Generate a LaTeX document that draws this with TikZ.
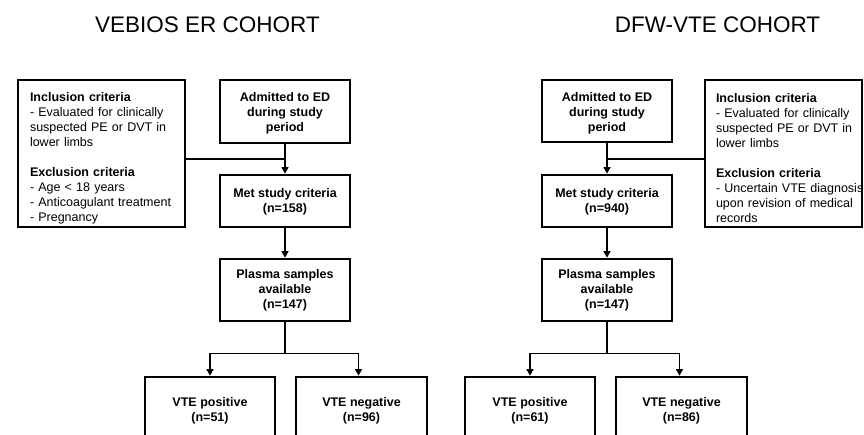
\documentclass[tikz,border=0pt]{standalone}
\usepackage{fontspec}
\setmainfont{Liberation Sans}
\usetikzlibrary{arrows.meta}
\newcommand{\topgap}{\rule{0pt}{19pt}}
\begin{document}
\begin{tikzpicture}[x=1pt,y=-1pt,
  box/.style={draw, line width=2.7pt, font=\bfseries\fontsize{12.5}{15}\selectfont, align=center, inner sep=0pt, minimum width=130pt},
  crit/.style={draw, line width=2.7pt, font=\fontsize{12.5}{15}\selectfont, align=left, inner ysep=0pt, minimum height=147pt},
  conn/.style={line width=1.3pt},
  arr/.style={conn, -{Triangle[length=6.5pt,width=7pt]}},
  ttl/.style={font=\fontsize{22.5}{25}\selectfont}]
\useasboundingbox (0,0) rectangle (864,434);

% titles
\node[ttl] (t1) at (207.5,25) {VEBIOS ER COHORT};
\node[ttl] (t2) at (717.5,25) {DFW-VTE COHORT};

% left cohort
\node[box, minimum height=63pt] (adm1) at (285,111.5) {\rule{0pt}{13pt}Admitted to ED\\during study\\period};
\node[box, minimum height=52pt] (met1) at (285,201) {\rule{0pt}{11pt}Met study criteria\\(n=158)};
\node[box, minimum height=62pt] (pl1) at (285,290) {Plasma samples\\available\\(n=147)};
\node[box, minimum height=68pt] (pos1) at (210,411) {VTE positive\\(n=51)};
\node[box, minimum width=131pt, minimum height=68pt] (neg1) at (361.5,411) {VTE negative\\(n=96)};
\node[crit, text width=143pt, inner xsep=12pt] (inc1) at (101.5,153.5)
  {\topgap\textbf{Inclusion criteria}\\\mbox{- Evaluated for clinically}\\\mbox{suspected PE or DVT in}\\lower limbs\\[15pt]
   \textbf{Exclusion criteria}\\- Age < 18 years\\\mbox{- Anticoagulant treatment}\\- Pregnancy};

\draw[arr] (adm1.south) -- (met1.north);
\draw[conn] ([yshift=-5.5pt]inc1.east) -- ([yshift=-5.5pt]inc1.east -| adm1.south);
\draw[arr] (met1.south) -- (pl1.north);
\draw[arr] (pl1.south) -- ++(0,31) -| (pos1.north);
\draw[arr] (pl1.south) -- ++(0,31) -| ([xshift=-3pt]neg1.north);

% right cohort
\node[box, minimum height=62pt] (adm2) at (607,111) {\rule{0pt}{13pt}Admitted to ED\\during study\\period};
\node[box, minimum height=52pt] (met2) at (607,201) {\rule{0pt}{11pt}Met study criteria\\(n=940)};
\node[box, minimum height=62pt] (pl2) at (607,290) {Plasma samples\\available\\(n=147)};
\node[box, minimum height=68pt] (pos2) at (530,411) {VTE positive\\(n=61)};
\node[box, minimum width=131pt, minimum height=68pt] (neg2) at (681.5,411) {VTE negative\\(n=86)};
\node[crit, text width=135pt, inner xsep=11pt] (inc2) at (783.5,153.5)
  {\topgap\textbf{Inclusion criteria}\\\mbox{- Evaluated for clinically}\\\mbox{suspected PE or DVT in}\\lower limbs\\[15pt]
   \textbf{Exclusion criteria}\\\mbox{- Uncertain VTE diagnosis}\\\mbox{upon revision of medical}\\records};

\draw[arr] (adm2.south) -- (met2.north);
\draw[conn] ([yshift=-5.5pt]inc2.west) -- ([yshift=-5.5pt]inc2.west -| adm2.south);
\draw[arr] (met2.south) -- (pl2.north);
\draw[arr] (pl2.south) -- ++(0,31) -| (pos2.north);
\draw[arr] (pl2.south) -- ++(0,31) -| ([xshift=-2pt]neg2.north);
\end{tikzpicture}
\end{document}
